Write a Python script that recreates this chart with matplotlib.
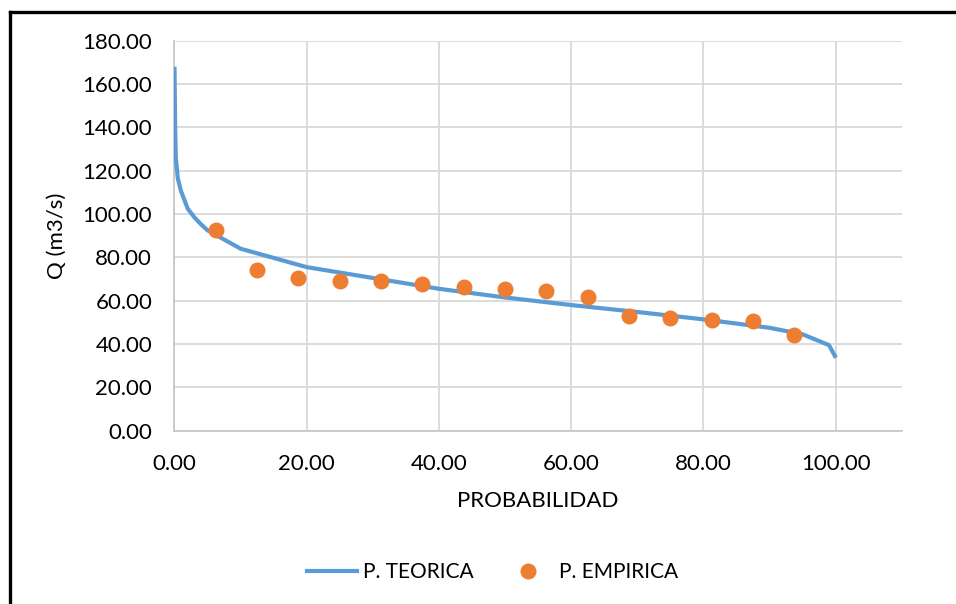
import matplotlib
matplotlib.use("Agg")
import matplotlib.pyplot as plt
from matplotlib.lines import Line2D
from matplotlib.ticker import FormatStrFormatter, MultipleLocator

plt.rcParams['font.family'] = ['Lato', 'DejaVu Sans']

# theoretical curve (probability %, discharge)
prob_teo = [0.01, 0.1, 0.2, 0.5, 1, 2, 3, 4, 5, 10, 20, 30, 40, 50, 60, 70, 80, 90, 95, 99, 99.9]
q_teo = [167.0, 140.0, 126.0, 116.5, 110.5, 102.5, 98.5, 95.3, 92.5, 84.0, 75.5, 70.5, 65.5,
         61.5, 58.0, 54.8, 51.4, 47.5, 44.5, 39.5, 34.5]

# empirical points (Weibull plotting position, n = 15)
prob_emp = [6.25, 12.50, 18.75, 25.00, 31.25, 37.50, 43.75, 50.00,
            56.25, 62.50, 68.75, 75.00, 81.25, 87.50, 93.75]
q_emp = [92.8, 74.4, 70.3, 69.1, 69.1, 67.5, 66.2, 65.4,
         64.4, 61.8, 52.9, 51.8, 51.2, 50.8, 44.1]

fig = plt.figure(figsize=(9.56, 6.04), dpi=100)
ax = fig.add_axes([0.1825, 0.2869, 0.7607, 0.6457])

ax.plot(prob_teo, q_teo, color='#5b9bd5', lw=3, label='P. TEORICA', zorder=3,
        solid_joinstyle='round')
ax.plot(prob_emp, q_emp, 'o', color='#ed7d31', ms=11.5, mec='none',
        label='P. EMPIRICA', zorder=4)

ax.set_xlim(0, 110)
ax.set_ylim(0, 180)
ax.yaxis.set_major_locator(MultipleLocator(20))
ax.xaxis.set_major_formatter(FormatStrFormatter('%.2f'))
ax.yaxis.set_major_formatter(FormatStrFormatter('%.2f'))
ax.set_xticks([0, 20, 40, 60, 80, 100])

ax.grid(True, color='#d9d9d9', lw=1.3)
ax.set_axisbelow(True)
for s in ['top', 'right']:
    ax.spines[s].set_visible(False)
for s in ['left', 'bottom']:
    ax.spines[s].set_color('#c8c8c8')
    ax.spines[s].set_linewidth(1.3)
ax.tick_params(length=0, labelsize=16, colors='black')
ax.tick_params(axis='y', pad=16)
ax.tick_params(axis='x', pad=17)

ax.set_xlabel('PROBABILIDAD', fontsize=16, labelpad=12)
ax.set_ylabel('Q (m3/s)', fontsize=16, labelpad=11)

fig.legend(loc='center', bbox_to_anchor=(0.515, 0.053), ncol=2, frameon=False,
           fontsize=15, handlelength=2.4, columnspacing=1.4, handletextpad=0.3)

# outer frame, top and left edges only
fig.add_artist(Line2D([10 / 956, 1], [1 - 12 / 604] * 2, transform=fig.transFigure,
                      color='black', lw=2.4))
fig.add_artist(Line2D([10 / 956] * 2, [0, 1 - 12 / 604], transform=fig.transFigure,
                      color='black', lw=2.4))

fig.savefig('out.png', dpi=100)
